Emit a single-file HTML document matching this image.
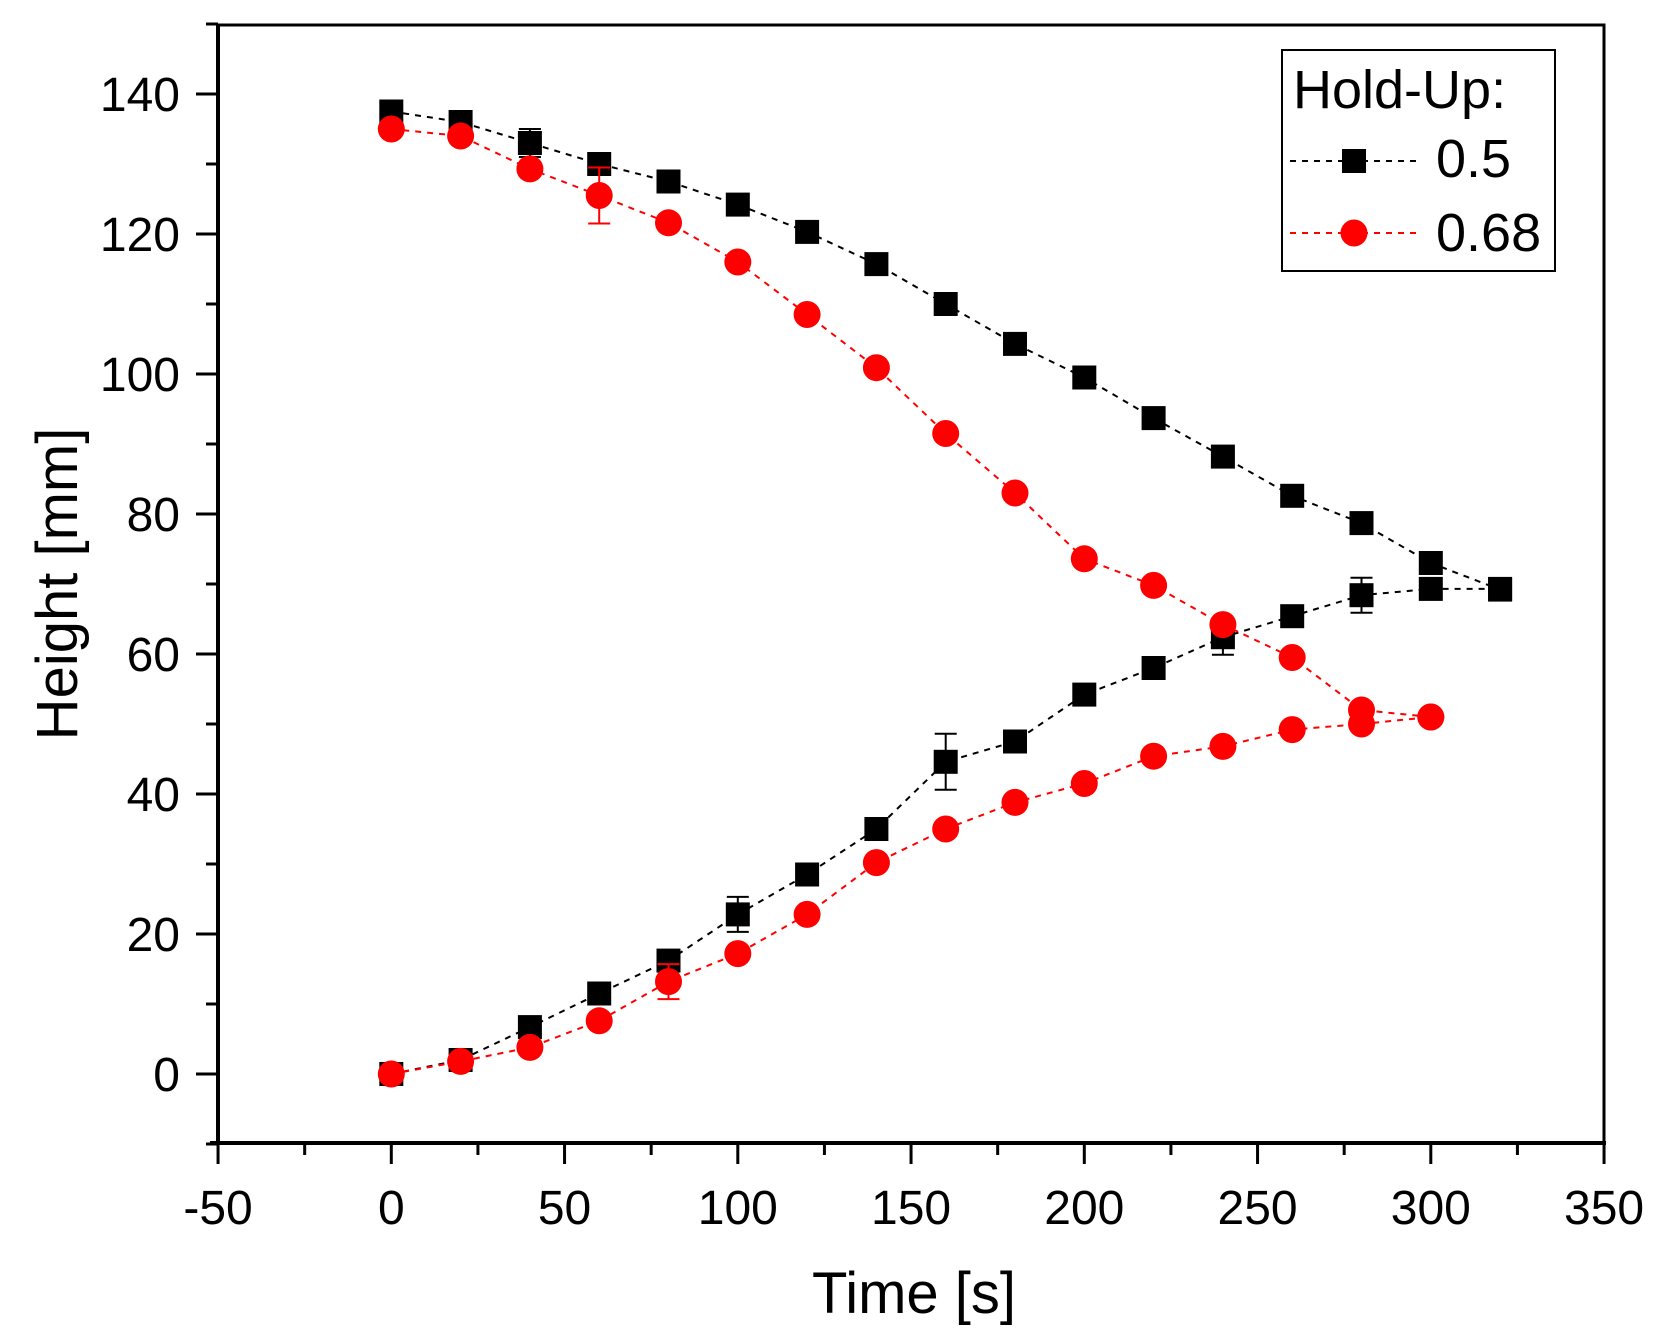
<!DOCTYPE html>
<html><head><meta charset="utf-8"><style>
html,body{margin:0;padding:0;background:#fff;}
svg{display:block;font-family:"Liberation Sans",Arial,sans-serif;}
</style></head><body>
<svg id="s" width="1666" height="1342" xmlns="http://www.w3.org/2000/svg">
<rect width="1666" height="1342" fill="#fff"/>
<g id="plot"></g>
<rect x="218" y="25" width="1386" height="1118" fill="none" stroke="#000" stroke-width="3"/>
<line x1="210" y1="1143" x2="1606" y2="1143" stroke="#000" stroke-width="4"/>
<line x1="218" y1="25" x2="218" y2="1145" stroke="#000" stroke-width="4"/>
<g id="ax"></g>
<text x="914" y="1313" font-size="58" text-anchor="middle">Time [s]</text>
<text transform="translate(77,584) rotate(-90)" font-size="58" text-anchor="middle">Height [mm]</text>
<rect x="1282" y="50" width="273" height="221" fill="#fff" stroke="#000" stroke-width="2"/>
<text x="1293" y="108" font-size="54">Hold-Up:</text>
<line x1="1290" y1="161" x2="1420" y2="161" stroke="#000" stroke-width="2" stroke-dasharray="6,6"/>
<rect x="1342" y="149" width="24" height="24" fill="#000"/>
<text x="1436" y="177" font-size="54">0.5</text>
<line x1="1290" y1="233" x2="1420" y2="233" stroke="#f00" stroke-width="2" stroke-dasharray="6,6"/>
<circle cx="1354" cy="233" r="13.5" fill="#f00"/>
<text x="1436" y="251" font-size="54">0.68</text>
</svg>
<script>
var X=function(v){return 391.3+v*3.465},Y=function(v){return 1074-v*7};
var ns="http://www.w3.org/2000/svg";
function el(p,t,a,txt){var e=document.createElementNS(ns,t);for(var k in a)e.setAttribute(k,a[k]);if(txt!=null)e.textContent=txt;p.appendChild(e);return e;}
var ax=document.getElementById('ax'),pl=document.getElementById('plot');
for(var v=-50;v<=350;v+=25){var x=X(v),maj=v%50==0;el(ax,'line',{x1:x,y1:1143,x2:x,y2:1143+(maj?21:12),stroke:'#000','stroke-width':3});
if(maj)el(ax,'text',{x:x,y:1224,'font-size':48,'text-anchor':'middle'},String(v));}
for(var v=-10;v<=150;v+=10){var y=Y(v),maj=v%20==0&&v>=0;el(ax,'line',{x1:218-(maj?22:12),y1:y,x2:218,y2:y,stroke:'#000','stroke-width':3});
if(maj)el(ax,'text',{x:180,y:y+17,'font-size':48,'text-anchor':'end'},String(v));}
var t=[0,20,40,60,80,100,120,140,160,180,200,220,240,260,280,300,320];
var bT=[137.5,136,133,130,127.5,124.2,120.3,115.7,110,104.3,99.5,93.7,88.2,82.6,78.7,73,69.2];
var rT=[135,134,129.3,125.5,121.6,116,108.5,100.9,91.5,83,73.6,69.8,64.2,59.5,52,51];
var bB=[0,2,6.7,11.5,16.2,22.8,28.5,35,44.6,47.5,54.2,58,62.4,65.4,68.4,69.3,69.3];
var rB=[0,1.8,3.8,7.6,13.2,17.2,22.8,30.2,35,38.8,41.5,45.4,46.8,49.2,50,51];
function series(c,d,e){var col=c=='b'?'#000':'#f00',pts=d.map(function(v,i){return X(t[i])+','+Y(v)}).join(' ');
el(pl,'polyline',{points:pts,fill:'none',stroke:col,'stroke-width':2,'stroke-dasharray':'6,6'});
for(var i in e){var x=X(t[i]),y1=Y(d[i]+e[i]),y2=Y(d[i]-e[i]);el(pl,'line',{x1:x,y1:y1,x2:x,y2:y2,stroke:col,'stroke-width':2});
el(pl,'line',{x1:x-11,y1:y1,x2:x+11,y2:y1,stroke:col,'stroke-width':2});el(pl,'line',{x1:x-11,y1:y2,x2:x+11,y2:y2,stroke:col,'stroke-width':2});}
d.forEach(function(v,i){var x=X(t[i]),y=Y(v);if(c=='b')el(pl,'rect',{x:x-12,y:y-12,width:24,height:24,fill:col});else el(pl,'circle',{cx:x,cy:y,r:13.5,fill:col});});}
series('b',bT,{2:2,1:0.8});series('b',bB,{5:2.5,8:4,12:2.5,14:2.5,1:1});series('r',rT,{3:4,1:0.7});series('r',rB,{4:2.5,1:1});
</script>
</body></html>
